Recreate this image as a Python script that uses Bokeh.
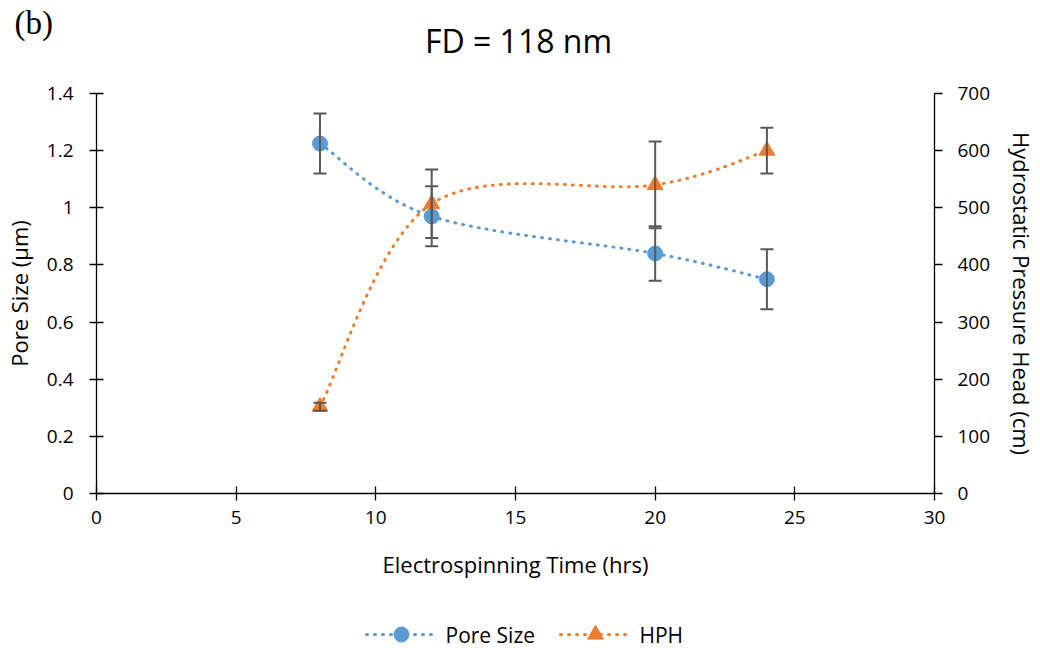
from bokeh.plotting import figure
from bokeh.layouts import column, row
from bokeh.models import (Plot, Range1d, LinearAxis, FixedTicker, ColumnDataSource,
                          Scatter, Segment, Whisker, TeeHead, Label)
from bokeh.embed import file_html
from bokeh.resources import INLINE

# ---- data -------------------------------------------------------------
time_hrs = [8, 12, 20, 24]
pore_size = [1.225, 0.97, 0.84, 0.75]        # µm
pore_err = [0.105, 0.105, 0.095, 0.105]
hph = [152, 507, 540, 600]                   # cm
hph_err = [7, 60, 76, 40]

x_ticks = [0, 5, 10, 15, 20, 25, 30]
left_ticks = [0, 0.2, 0.4, 0.6, 0.8, 1, 1.2, 1.4]
left_tick_labels = ["0", "0.2", "0.4", "0.6", "0.8", "1", "1.2", "1.4"]
right_ticks = [0, 100, 200, 300, 400, 500, 600, 700]
series_names = ["Pore Size", "HPH"]

BLUE = "#5B9BD5"
ORANGE = "#ED7D31"
ERR = "#595959"
FONT = "Open Sans"
W = 1040
TOP_H, MAIN_H, BOTTOM_H = 73, 510, 65


def blank_strip(height):
    """A bare strip (no axes) whose data units are pixels from its top-left."""
    return Plot(width=W, height=height, x_range=Range1d(0, W),
                y_range=Range1d(height, 0), min_border=0,
                min_border_left=0, min_border_right=0,
                min_border_top=0, min_border_bottom=0,
                output_backend="svg", toolbar_location=None,
                outline_line_color=None)


def smooth_segments(xs, ys):
    """Cubic Bezier segments (Catmull-Rom style) passing through every point."""
    n = len(xs)
    seg = dict(x0=[], y0=[], x1=[], y1=[], cx0=[], cy0=[], cx1=[], cy1=[])
    for i in range(n - 1):
        xp, yp = (xs[i - 1], ys[i - 1]) if i > 0 else (xs[i], ys[i])
        xn, yn = (xs[i + 2], ys[i + 2]) if i + 2 < n else (xs[i + 1], ys[i + 1])
        seg["x0"].append(xs[i]); seg["y0"].append(ys[i])
        seg["x1"].append(xs[i + 1]); seg["y1"].append(ys[i + 1])
        seg["cx0"].append(xs[i] + (xs[i + 1] - xp) / 6)
        seg["cy0"].append(ys[i] + (ys[i + 1] - yp) / 6)
        seg["cx1"].append(xs[i + 1] - (xn - xs[i]) / 6)
        seg["cy1"].append(ys[i + 1] - (yn - ys[i]) / 6)
    return ColumnDataSource(seg)


# ---- heading strip ----------------------------------------------------
top = blank_strip(TOP_H)
top.add_layout(Label(x=518, y=40, text="FD = 118 nm", text_font=FONT,
                     text_font_size="32px", text_align="center",
                     text_baseline="middle", text_color="black"))
top.add_layout(Label(x=14, y=22, text="(b)", text_font="Liberation Serif",
                     text_font_size="33px", text_align="left",
                     text_baseline="middle", text_color="black"))

# ---- main chart -------------------------------------------------------
p = figure(width=W, height=MAIN_H, x_range=Range1d(0, 30), y_range=Range1d(0, 1.4),
           output_backend="svg", toolbar_location=None,
           min_border_left=96, min_border_right=104, min_border_top=20,
           min_border_bottom=MAIN_H - 20 - 400)
p.extra_y_ranges = {"hph": Range1d(0, 700)}
p.outline_line_color = None
p.xgrid.visible = False
p.ygrid.visible = False


def style_axis(ax, tick_in, tick_out, standoff, label_standoff):
    ax.axis_line_color = "black"
    ax.axis_line_width = 1.3
    ax.major_tick_line_color = "black"
    ax.major_tick_line_width = 1.3
    ax.major_tick_in = tick_in
    ax.major_tick_out = tick_out
    ax.minor_tick_line_color = None
    ax.major_label_text_font = FONT
    ax.major_label_text_font_size = "19px"
    ax.major_label_text_color = "black"
    ax.major_label_standoff = standoff
    ax.axis_label_text_font = FONT
    ax.axis_label_text_font_size = "22px"
    ax.axis_label_text_font_style = "normal"
    ax.axis_label_text_color = "black"
    ax.axis_label_standoff = label_standoff


xa = p.xaxis[0]
xa.ticker = FixedTicker(ticks=x_ticks)
xa.axis_label = "Electrospinning Time (hrs)"
style_axis(xa, 7, 7, 10, 22)

ya = p.yaxis[0]
ya.ticker = FixedTicker(ticks=left_ticks)
ya.major_label_overrides = dict(zip(left_ticks, left_tick_labels))
ya.axis_label = "Pore Size (µm)"
style_axis(ya, 7, 7, 16, 10)

ra = LinearAxis(y_range_name="hph", ticker=FixedTicker(ticks=right_ticks),
                axis_label="Hydrostatic Pressure Head (cm)")
style_axis(ra, 0, 8, 15, 14)
p.add_layout(ra, "right")

# error bars
pore_src = ColumnDataSource(dict(x=time_hrs, y=pore_size,
                                 lo=[v - e for v, e in zip(pore_size, pore_err)],
                                 hi=[v + e for v, e in zip(pore_size, pore_err)]))
hph_src = ColumnDataSource(dict(x=time_hrs, y=hph,
                                lo=[v - e for v, e in zip(hph, hph_err)],
                                hi=[v + e for v, e in zip(hph, hph_err)]))


def whisker(src, range_name="default"):
    w = Whisker(source=src, base="x", lower="lo", upper="hi", level="glyph",
                line_color=ERR, line_width=2,
                upper_head=TeeHead(size=13, line_color=ERR, line_width=2),
                lower_head=TeeHead(size=13, line_color=ERR, line_width=2),
                y_range_name=range_name)
    p.add_layout(w)


whisker(pore_src)
whisker(hph_src, "hph")

# smoothed dotted connecting lines
line_kw = dict(line_width=3, line_dash="1 7", line_cap="round")
p.bezier(x0="x0", y0="y0", x1="x1", y1="y1", cx0="cx0", cy0="cy0", cx1="cx1",
         cy1="cy1", source=smooth_segments(time_hrs, pore_size),
         line_color=BLUE, **line_kw)
p.bezier(x0="x0", y0="y0", x1="x1", y1="y1", cx0="cx0", cy0="cy0", cx1="cx1",
         cy1="cy1", source=smooth_segments(time_hrs, hph),
         line_color=ORANGE, y_range_name="hph", **line_kw)

# markers
p.scatter("x", "y", source=pore_src, marker="circle", size=15,
          fill_color=BLUE, line_color=BLUE)
p.scatter("x", "y", source=hph_src, marker="triangle", size=16,
          fill_color=ORANGE, line_color=ORANGE, y_range_name="hph")

# ---- legend strip (swatch + label per series) -------------------------
bottom = blank_strip(BOTTOM_H)
LEG_Y = 51
legend_start = [366, 560]          # left end of each swatch, px
SWATCH_W = 70


def legend_entry(x_left, color, marker, size, name):
    sw = ColumnDataSource(dict(x0=[x_left], x1=[x_left + SWATCH_W], y=[LEG_Y],
                               xm=[x_left + SWATCH_W / 2]))
    bottom.add_glyph(sw, Segment(x0="x0", y0="y", x1="x1", y1="y",
                                 line_color=color, **line_kw))
    bottom.add_glyph(sw, Scatter(x="xm", y="y", marker=marker, size=size,
                                 fill_color=color, line_color=color))
    bottom.add_layout(Label(x=x_left + SWATCH_W + 9, y=LEG_Y, text=name,
                            text_font=FONT, text_font_size="21px",
                            text_align="left", text_baseline="middle",
                            text_color="black"))


legend_entry(legend_start[0], BLUE, "circle", 15, series_names[0])
legend_entry(legend_start[1], ORANGE, "triangle", 16, series_names[1])

# strips wrapped in their own rows so their frames keep the full width
layout = column(row(top), p, row(bottom), spacing=0)
open("out.html", "w").write(file_html(layout, INLINE))
